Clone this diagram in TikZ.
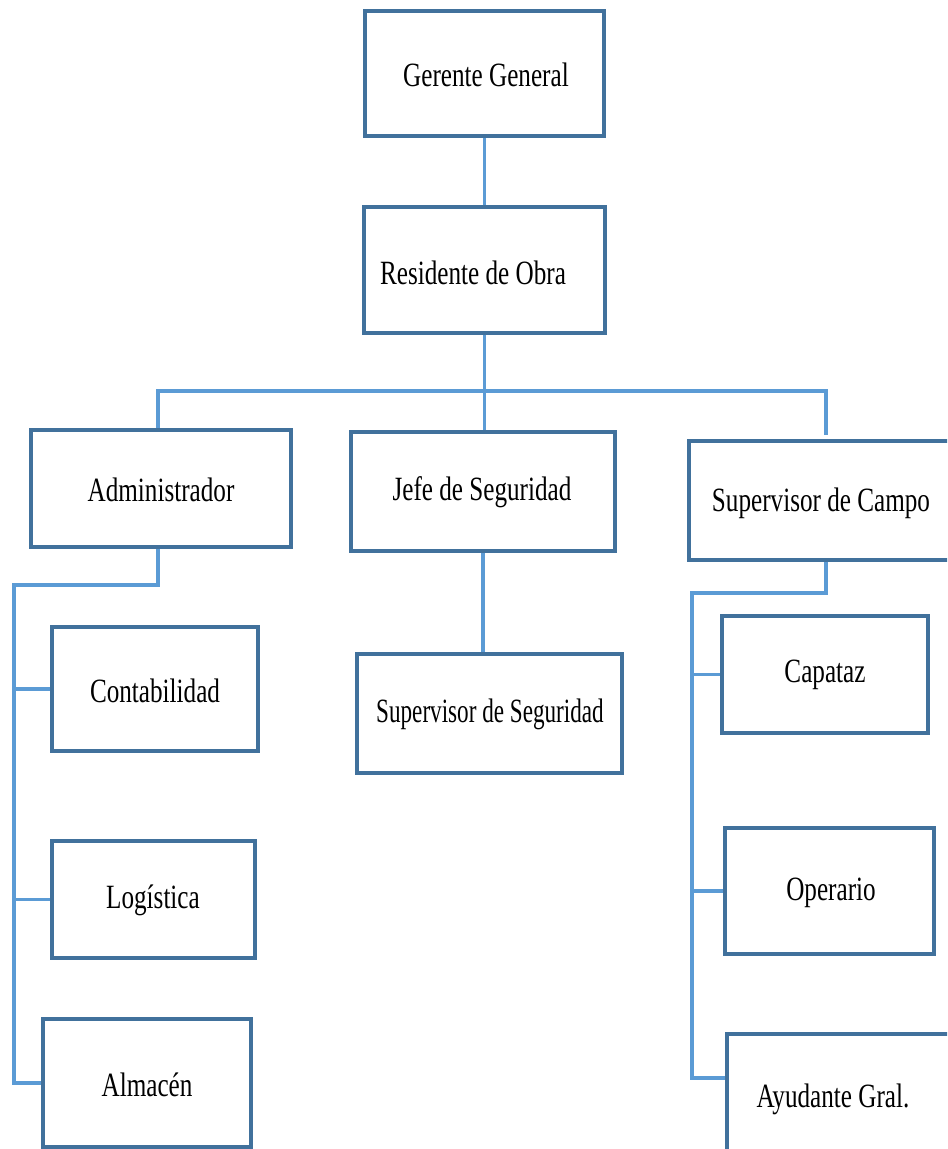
\documentclass[tikz,border=0pt]{standalone}
\usepackage{fontspec}
\setmainfont{Liberation Serif}
\usetikzlibrary{fit}
\definecolor{boxcol}{HTML}{41719C}
\definecolor{linecol}{HTML}{5B9BD5}
\begin{document}
\begin{tikzpicture}[x=0.75pt,y=-0.75pt,
  box/.style={draw=boxcol,line width=2.6pt,inner sep=0pt,fill=white},
  lbl/.style={inner sep=0pt,font=\fontsize{25.5}{30}\selectfont,xscale=0.74,anchor=center},
  conn/.style={draw=linecol,line width=2.6pt}]
\clip (0,0) rectangle (947,1149);
\fill[white] (0,0) rectangle (947,1149);
% boxes
\node[box,fit={(365,11) (604,136)}] (gg) {};
\node[box,fit={(364,207) (605,333)}] (ro) {};
\node[box,fit={(31,430) (291,547)}] (adm) {};
\node[box,fit={(351,432) (615,551)}] (jefe) {};
\node[box,fit={(689,441) (950,560)}] (sdc) {};
\node[box,fit={(52,627) (258,751)}] (cont) {};
\node[box,fit={(52,841) (255,958)}] (log) {};
\node[box,fit={(43,1019) (251,1147)}] (alm) {};
\node[box,fit={(357,654) (622,773)}] (sds) {};
\node[box,fit={(722,616) (928,733)}] (cap) {};
\node[box,fit={(725,828) (934,954)}] (ope) {};
\node[box,fit={(727,1034) (950,1190)}] (ayu) {};
% labels
\node[lbl] (gg-t) at (486,75) {Gerente General};
\node[lbl] (ro-t) at (473,273) {Residente de Obra};
\node[lbl] (adm-t) at (161,490) {Administrador};
\node[lbl] (jefe-t) at (482,492) {Jefe de Seguridad};
\node[lbl] (sdc-t) at (821,503) {Supervisor de Campo};
\node[lbl] (cont-t) at (155,691) {Contabilidad};
\node[lbl] (log-t) at (153,900) {Logística};
\node[lbl] (alm-t) at (147,1085) {Almacén};
\node[lbl,xscale=0.92] (sds-t) at (490,714) {Supervisor de Seguridad};
\node[lbl] (cap-t) at (825,675) {Capataz};
\node[lbl] (ope-t) at (831,893) {Operario};
\node[lbl] (ayu-t) at (833,1099) {Ayudante Gral.};
% connectors
\coordinate (b1) at (158,391);
\coordinate (b2) at (826,391);
\coordinate (l1) at (158,585);
\coordinate (lx) at (14,585);
\coordinate (r1) at (826,593);
\coordinate (rx) at (692,593);
\coordinate (ra) at (692,1078);
\draw[conn] (gg.south) -- (ro.south |- gg.south) -- (ro.north);
\draw[conn] (ro.south) -- (jefe.north -| ro.south);
\draw[conn] (b1 |- adm.north) -- (b1) -- (b2) -- ([yshift=3pt]b2 |- sdc.north);
\draw[conn] (l1 |- adm.south) -- (l1) -- (lx) -- (lx |- alm.west) -- (alm.west);
\draw[conn] (lx |- cont.west) -- (cont.west);
\draw[conn] (lx |- log.west) -- (log.west);
\draw[conn] (jefe.south) -- (sds.north -| jefe.south);
\draw[conn] (r1 |- sdc.south) -- (r1) -- (rx) -- (ra) -- (ra -| ayu.west);
\draw[conn] (rx |- cap.west) -- (cap.west);
\draw[conn] (rx |- ope.west) -- (ope.west);
\end{tikzpicture}
\end{document}
